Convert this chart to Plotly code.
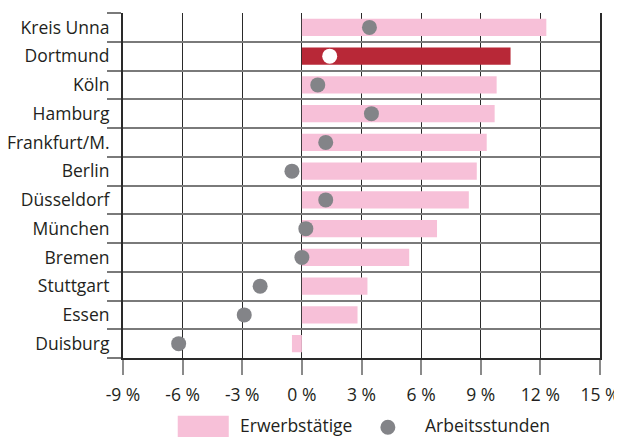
import plotly.graph_objects as go

# Daten (Veränderung in %)
STAEDTE = ['Kreis Unna', 'Dortmund', 'Köln', 'Hamburg', 'Frankfurt/M.', 'Berlin',
           'Düsseldorf', 'München', 'Bremen', 'Stuttgart', 'Essen', 'Duisburg']
ERWERBSTAETIGE = [12.3, 10.5, 9.8, 9.7, 9.3, 8.8, 8.4, 6.8, 5.4, 3.3, 2.8, -0.5]
ARBEITSSTUNDEN = [3.4, 1.4, 0.8, 3.5, 1.2, -0.5, 1.2, 0.2, 0.0, -2.1, -2.9, -6.2]
X_TICKS = [-9, -6, -3, 0, 3, 6, 9, 12, 15]
X_TICKTEXT = ['-9 %', '-6 %', '-3 %', '0 %', '3 %', '6 %', '9 %', '12 %', '15 %']
HIGHLIGHT = 'Dortmund'

PINK = '#F7C0D8'
ROT = '#B82837'
GRAU = '#838488'
TEXT = '#231F20'
FONT = 'Open Sans'

bar_colors = [ROT if s == HIGHLIGHT else PINK for s in STAEDTE]
dot_colors = ['#FFFFFF' if s == HIGHLIGHT else GRAU for s in STAEDTE]

fig = go.Figure()
fig.add_trace(go.Bar(
    x=ERWERBSTAETIGE, y=STAEDTE, orientation='h',
    marker=dict(color=bar_colors, line=dict(width=0)),
    width=0.6, name='Erwerbstätige', showlegend=False,
))
fig.add_trace(go.Scatter(
    x=ARBEITSSTUNDEN, y=STAEDTE, mode='markers',
    marker=dict(color=dot_colors, size=15, line=dict(width=0)),
    name='Arbeitsstunden', showlegend=False,
))

# Legende von Hand (breites Rechteck wie im Original)
# Seitenpixel -> Papierkoordinaten der Zeichenfläche
L, W, B, H = 123.3, 476.7, 357.7, 345.0
def px(xp):
    return (xp - L) / W
def py(yp):
    return (B - yp) / H

fig.add_shape(type='rect', xref='paper', yref='paper',
              x0=px(178), x1=px(229), y0=py(442), y1=py(415.5),
              fillcolor=PINK, line=dict(width=0))
fig.add_shape(type='circle', xref='paper', yref='paper',
              xsizemode='pixel', ysizemode='pixel',
              xanchor=px(388), yanchor=py(427),
              x0=-7.5, x1=7.5, y0=-7.5, y1=7.5,
              fillcolor=GRAU, line=dict(width=0))
fig.add_annotation(text='Erwerbstätige', xref='paper', yref='paper',
                   x=px(239), y=py(425), xanchor='left', yanchor='middle',
                   showarrow=False, borderpad=0,
                   font=dict(size=17.5, color=TEXT, family=FONT))
fig.add_annotation(text='Arbeitsstunden', xref='paper', yref='paper',
                   x=px(424), y=py(425), xanchor='left', yanchor='middle',
                   showarrow=False, borderpad=0,
                   font=dict(size=17.5, color=TEXT, family=FONT))

# die Seite hat 8 px Rand -> Figur um 8 px kleiner, Ränder entsprechend
fig.update_layout(
    width=614, height=429,
    margin=dict(l=115.3, r=22, t=4.7, b=79.3, autoexpand=False),
    plot_bgcolor='white', paper_bgcolor='white',
    font=dict(family=FONT, size=17.5, color=TEXT),
)
fig.update_xaxes(
    range=[-9, 15], tickvals=X_TICKS, ticktext=X_TICKTEXT,
    showgrid=True, gridcolor='#2A2A2A', gridwidth=1,
    zeroline=False,
    ticks='outside', ticklen=15, tickcolor='#8A8A8A', tickwidth=1.5,
    ticklabelstandoff=5,
    showline=True, linecolor='#2A2A2A', linewidth=2, mirror=False,
)
fig.update_yaxes(
    categoryorder='array', categoryarray=STAEDTE[::-1],
    range=[-0.5, len(STAEDTE) - 0.5],
    tickson='boundaries', showgrid=True, gridcolor='#7A7A7A', gridwidth=1.5,
    ticks='outside', ticklen=14, tickcolor='#7A7A7A', tickwidth=1.5,
    ticklabelstandoff=8,
    showline=True, linecolor='#2A2A2A', linewidth=2, mirror=True,
)

fig.write_html('out.html')
